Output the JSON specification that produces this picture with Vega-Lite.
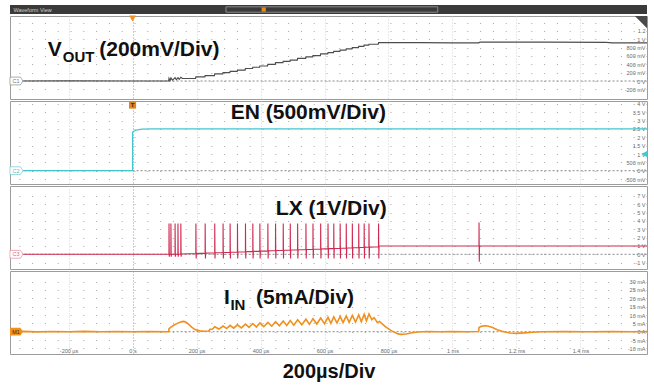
{
"$schema":"https://vega.github.io/schema/vega-lite/v6.json",
"background":"white",
"padding":{"left":6,"right":8,"top":5,"bottom":5},
"spacing":2,
"bounds":"flush",
"config":{
 "view":{"stroke":"#9c9c9c"},
 "font":"Liberation Sans",
 "axis":{"domain":false,"ticks":false,"tickSize":0,"labelFont":"Liberation Sans","labelFontSize":5.5,"labelColor":"#6a6a6a","labelOverlap":false,"titleFont":"Liberation Sans"},
 "text":{"font":"Liberation Sans"}
},
"datasets":{
 "vout":[{"t":-383,"v":0},{"t":-200,"v":0.004},{"t":0,"v":0},{"t":113,"v":0},{"t":114,"v":0.06},{"t":117,"v":0.01},{"t":120,"v":0.07},{"t":125,"v":0.02},{"t":133,"v":0.08},{"t":137,"v":0.03},{"t":142,"v":0.08},{"t":146,"v":0.04},{"t":151,"v":0.09},{"t":156,"v":0.06},
 {"t":197,"v":0.06},{"t":198,"v":0.10},{"t":226,"v":0.10},{"t":227,"v":0.13},{"t":256,"v":0.13},{"t":257,"v":0.17},{"t":282,"v":0.17},{"t":283,"v":0.20},{"t":304,"v":0.20},{"t":305,"v":0.23},{"t":327,"v":0.23},{"t":328,"v":0.26},{"t":352,"v":0.26},{"t":353,"v":0.30},{"t":375,"v":0.30},{"t":376,"v":0.33},{"t":397,"v":0.33},{"t":398,"v":0.36},{"t":422,"v":0.36},{"t":423,"v":0.40},{"t":446,"v":0.40},{"t":447,"v":0.44},{"t":470,"v":0.44},{"t":471,"v":0.47},{"t":492,"v":0.47},{"t":493,"v":0.50},{"t":515,"v":0.50},{"t":516,"v":0.54},{"t":541,"v":0.54},{"t":542,"v":0.58},{"t":563,"v":0.58},{"t":564,"v":0.61},{"t":587,"v":0.61},{"t":588,"v":0.65},{"t":610,"v":0.65},{"t":611,"v":0.68},{"t":628,"v":0.68},{"t":629,"v":0.71},{"t":648,"v":0.71},{"t":649,"v":0.74},{"t":667,"v":0.74},{"t":668,"v":0.77},{"t":686,"v":0.77},{"t":687,"v":0.80},{"t":706,"v":0.80},{"t":707,"v":0.83},{"t":723,"v":0.83},{"t":724,"v":0.86},{"t":738,"v":0.86},{"t":739,"v":0.88},{"t":768,"v":0.88},{"t":769,"v":0.92},
 {"t":900,"v":0.92},{"t":1000,"v":0.915},{"t":1082,"v":0.915},{"t":1086,"v":0.93},{"t":1300,"v":0.93},{"t":1480,"v":0.925},{"t":1500,"v":0.915},{"t":1608,"v":0.915}],
 "en":[{"t":-383,"v":0},{"t":0,"v":0},{"t":0.3,"v":2.32},{"t":5,"v":2.38},{"t":15,"v":2.45},{"t":30,"v":2.49},{"t":60,"v":2.5},{"t":1608,"v":2.5}],
 "lx":[{"t":-383,"v":0},{"t":113.8,"v":0},
 {"t":114,"v":3.7},{"t":114.8,"v":-0.3},{"t":115.6,"v":0},
 {"t":119.8,"v":0},{"t":120,"v":3.7},{"t":120.8,"v":-0.3},{"t":121.6,"v":0},
 {"t":132.8,"v":0},{"t":133,"v":3.7},{"t":133.8,"v":-0.3},{"t":134.6,"v":0},
 {"t":141.8,"v":0},{"t":142,"v":3.7},{"t":142.8,"v":-0.3},{"t":143.6,"v":0},
 {"t":150.8,"v":0},{"t":151,"v":3.7},{"t":151.8,"v":-0.3},{"t":152.6,"v":0.03},
 {"t":197.8,"v":0.10},{"t":198,"v":3.7},{"t":198.8,"v":-0.5},{"t":199.6,"v":0.10},
 {"t":226.8,"v":0.14},{"t":227,"v":3.7},{"t":227.8,"v":-0.5},{"t":228.6,"v":0.14},
 {"t":256.8,"v":0.18},{"t":257,"v":3.7},{"t":257.8,"v":-0.5},{"t":258.6,"v":0.18},
 {"t":282.8,"v":0.22},{"t":283,"v":3.7},{"t":283.8,"v":-0.5},{"t":284.6,"v":0.22},
 {"t":304.8,"v":0.25},{"t":305,"v":3.7},{"t":305.8,"v":-0.5},{"t":306.6,"v":0.25},
 {"t":327.8,"v":0.28},{"t":328,"v":3.7},{"t":328.8,"v":-0.5},{"t":329.6,"v":0.28},
 {"t":352.8,"v":0.31},{"t":353,"v":3.7},{"t":353.8,"v":-0.5},{"t":354.6,"v":0.31},
 {"t":375.8,"v":0.35},{"t":376,"v":3.7},{"t":376.8,"v":-0.5},{"t":377.6,"v":0.35},
 {"t":397.8,"v":0.38},{"t":398,"v":3.7},{"t":398.8,"v":-0.5},{"t":399.6,"v":0.38},
 {"t":422.8,"v":0.41},{"t":423,"v":3.7},{"t":423.8,"v":-0.5},{"t":424.6,"v":0.41},
 {"t":446.8,"v":0.45},{"t":447,"v":3.7},{"t":447.8,"v":-0.5},{"t":448.6,"v":0.45},
 {"t":470.8,"v":0.48},{"t":471,"v":3.7},{"t":471.8,"v":-0.5},{"t":472.6,"v":0.48},
 {"t":492.8,"v":0.51},{"t":493,"v":3.7},{"t":493.8,"v":-0.5},{"t":494.6,"v":0.51},
 {"t":515.8,"v":0.54},{"t":516,"v":3.7},{"t":516.8,"v":-0.5},{"t":517.6,"v":0.54},
 {"t":541.8,"v":0.58},{"t":542,"v":3.7},{"t":542.8,"v":-0.5},{"t":543.6,"v":0.58},
 {"t":563.8,"v":0.61},{"t":564,"v":3.7},{"t":564.8,"v":-0.5},{"t":565.6,"v":0.61},
 {"t":587.8,"v":0.64},{"t":588,"v":3.7},{"t":588.8,"v":-0.5},{"t":589.6,"v":0.64},
 {"t":610.8,"v":0.68},{"t":611,"v":3.7},{"t":611.8,"v":-0.5},{"t":612.6,"v":0.68},
 {"t":628.8,"v":0.70},{"t":629,"v":3.7},{"t":629.8,"v":-0.5},{"t":630.6,"v":0.70},
 {"t":648.8,"v":0.73},{"t":649,"v":3.7},{"t":649.8,"v":-0.5},{"t":650.6,"v":0.73},
 {"t":667.8,"v":0.76},{"t":668,"v":3.7},{"t":668.8,"v":-0.5},{"t":669.6,"v":0.76},
 {"t":686.8,"v":0.78},{"t":687,"v":3.7},{"t":687.8,"v":-0.5},{"t":688.6,"v":0.78},
 {"t":706.8,"v":0.81},{"t":707,"v":3.7},{"t":707.8,"v":-0.5},{"t":708.6,"v":0.81},
 {"t":723.8,"v":0.84},{"t":724,"v":3.7},{"t":724.8,"v":-0.5},{"t":725.6,"v":0.84},
 {"t":738.8,"v":0.86},{"t":739,"v":3.7},{"t":739.8,"v":-0.5},{"t":740.6,"v":0.86},
 {"t":768.8,"v":0.90},{"t":769,"v":3.7},{"t":769.8,"v":-0.5},{"t":770.6,"v":1.0},
 {"t":1082.8,"v":1.0},{"t":1083,"v":3.8},{"t":1083.8,"v":-0.9},{"t":1084.6,"v":1.0},{"t":1608,"v":1.0}],
 "iin":[{"t":-383,"v":0},{"t":-340,"v":0.2},{"t":-300,"v":-0.1},{"t":-250,"v":0.15},{"t":-200,"v":-0.05},{"t":-150,"v":0.2},{"t":-100,"v":0},{"t":-50,"v":0.15},{"t":0,"v":-0.05},{"t":50,"v":0.15},{"t":113,"v":0},
 {"t":114,"v":1.8},{"t":120,"v":2.8},{"t":130,"v":4.0},{"t":140,"v":5.0},{"t":150,"v":5.8},{"t":158,"v":6.2},{"t":165,"v":5.9},{"t":175,"v":4.5},{"t":185,"v":2.8},{"t":195,"v":1.3},{"t":210,"v":0.5},{"t":225,"v":0.3},{"t":238,"v":0.4},{"t":242,"v":1.4},{"t":250,"v":1.6},
 {"t":257,"v":3.0},{"t":270,"v":1.6},{"t":283,"v":3.4},{"t":294,"v":1.9},{"t":305,"v":3.8},{"t":316,"v":2.1},{"t":328,"v":4.1},{"t":340,"v":2.3},{"t":353,"v":4.5},{"t":364,"v":2.6},{"t":376,"v":4.9},{"t":387,"v":2.8},{"t":398,"v":5.2},{"t":410,"v":3.0},{"t":423,"v":5.6},{"t":435,"v":3.3},{"t":447,"v":6.0},{"t":459,"v":3.5},{"t":471,"v":6.4},{"t":482,"v":3.7},{"t":493,"v":6.7},{"t":504,"v":3.9},{"t":516,"v":7.1},{"t":529,"v":4.2},{"t":542,"v":7.5},{"t":553,"v":4.4},{"t":564,"v":7.8},{"t":576,"v":4.6},{"t":588,"v":8.2},{"t":600,"v":4.8},{"t":611,"v":8.6},{"t":620,"v":5.0},{"t":629,"v":8.9},{"t":639,"v":5.2},{"t":649,"v":9.2},{"t":658,"v":5.4},{"t":668,"v":9.5},{"t":677,"v":5.6},{"t":687,"v":9.8},{"t":697,"v":5.8},{"t":707,"v":10.1},{"t":715,"v":6.0},{"t":724,"v":10.4},{"t":731,"v":6.5},{"t":739,"v":10.6},{"t":748,"v":7.2},{"t":755,"v":8.4},{"t":765,"v":5.5},{"t":772,"v":6.2},{"t":790,"v":3.0},{"t":810,"v":0.5},{"t":830,"v":-1.3},{"t":840,"v":-1.6},{"t":855,"v":-1.4},{"t":870,"v":-0.8},{"t":890,"v":-0.2},{"t":920,"v":0.1},{"t":960,"v":0},{"t":1000,"v":0.15},{"t":1040,"v":0},{"t":1082,"v":0.1},
 {"t":1083,"v":2.5},{"t":1090,"v":3.2},{"t":1100,"v":3.6},{"t":1110,"v":3.4},{"t":1125,"v":2.5},{"t":1140,"v":1.2},{"t":1160,"v":0},{"t":1180,"v":-0.8},{"t":1200,"v":-1.0},{"t":1225,"v":-0.7},{"t":1250,"v":-0.3},{"t":1280,"v":0},{"t":1350,"v":0.15},{"t":1420,"v":-0.05},{"t":1500,"v":0.15},{"t":1560,"v":0},{"t":1608,"v":0.1}]
},
"vconcat":[
 {
  "width":637,"height":9,
  "view":{"fill":"#3a3a3a","stroke":null},
  "encoding":{
   "x":{"field":"t","type":"quantitative","scale":{"domain":[-383,1608],"nice":false,"zero":false},"axis":null},
   "y":{"field":"v","type":"quantitative","scale":{"domain":[0,1],"nice":false,"zero":false},"axis":null}
  },
  "layer":[
   {"data":{"values":[{"t":-372,"v":0.5,"lbl":"Waveform View"}]},"mark":{"type":"text","align":"left","baseline":"middle","fontSize":5.5,"color":"#cfcfcf"},"encoding":{"text":{"field":"lbl"}}},
   {"data":{"values":[{"t":292,"t2":954,"v":0.2,"v2":0.8}]},"mark":{"type":"rect","fillOpacity":0,"stroke":"#a0a0a0","strokeWidth":0.8},"encoding":{"x2":{"field":"t2"},"y2":{"field":"v2"}}},
   {"data":{"values":[{"t":410,"v":0.5}]},"mark":{"type":"point","shape":"square","filled":true,"color":"#e8891c","size":18,"opacity":1},"encoding":{}}
  ]
 },
 {
  "width":637,"height":83,
  "encoding":{
   "x":{"field":"t","type":"quantitative","scale":{"domain":[-383,1608],"nice":false,"zero":false},"axis":{"labels":false,"grid":true,"values":[-200,0,200,400,600,800,1000,1200,1400],"title":null,"gridDash":[1,2],"gridColor":{"condition":{"test":"datum.value===0","value":"#9a9a9a"},"value":"#d2d2d2"}}},
   "y":{"field":"v","type":"quantitative","scale":{"domain":[-0.431,1.557],"nice":false,"zero":false},"axis":{"orient":"right","values":[-0.2,0,0.2,0.4,0.6,0.8,1,1.2,1.4],"labelExpr":"datum.value==0?'0 V':datum.value==1?'1 V':datum.value==1.2?'1.2':datum.value>1.3?'':round(datum.value*1000)+' mV'","labelAlign":"right","labelPadding":-2,"labelBaseline":"middle","grid":true,"gridDash":[1,11.8],"gridColor":"#a8a8a8","title":null}}
  },
  "layer":[
   {"data":{"values":[{"t":-350,"t2":1608,"v":0}]},"mark":{"type":"rule","strokeDash":[2,2],"color":"#8a8a8a","strokeWidth":1},"encoding":{"x2":{"field":"t2"}}},
   {"data":{"name":"vout"},"mark":{"type":"line","color":"#4d4d4d","strokeWidth":1.2},"encoding":{}},
   {"data":{"values":[{"t":-265,"v":0.587,"lbl":"V"},{"t":-104,"v":0.587,"lbl":"(200mV/Div)"}]},"mark":{"type":"text","align":"left","baseline":"alphabetic","fontSize":21,"fontWeight":"bold","color":"#111111"},"encoding":{"text":{"field":"lbl"}}},
   {"data":{"values":[{"t":-218,"v":0.455,"lbl":"OUT"}]},"mark":{"type":"text","align":"left","baseline":"alphabetic","fontSize":15,"fontWeight":"bold","color":"#111111"},"encoding":{"text":{"field":"lbl"}}},
   {"data":{"values":[{"t":0,"v":1.497}]},"mark":{"type":"point","shape":"triangle-down","filled":true,"color":"#f0901e","size":45,"opacity":1},"encoding":{}},
   {"data":{"values":[{"t":1589,"v":1.41}]},"mark":{"type":"point","shape":"M-1,-1L1,-1L1,1Z","filled":true,"color":"#4a4a4a","size":150,"opacity":1},"encoding":{}},
   {"data":{"values":[{"t":-362.7,"v":0}]},"mark":{"type":"point","shape":"M-1,-0.6L0.6,-0.6L1,0L0.6,0.6L-1,0.6Z","filled":true,"fill":"white","stroke":"#8a8a8a","strokeWidth":0.7,"size":169,"opacity":1},"encoding":{}},
   {"data":{"values":[{"t":-364,"v":0,"lbl":"C1"}]},"mark":{"type":"text","fontSize":5.5,"color":"#777777","baseline":"middle"},"encoding":{"text":{"field":"lbl"}}}
  ]
 },
 {
  "width":637,"height":83,
  "encoding":{
   "x":{"field":"t","type":"quantitative","scale":{"domain":[-383,1608],"nice":false,"zero":false},"axis":{"labels":false,"grid":true,"values":[-200,0,200,400,600,800,1000,1200,1400],"title":null,"gridDash":[1,2],"gridColor":{"condition":{"test":"datum.value===0","value":"#9a9a9a"},"value":"#d2d2d2"}}},
   "y":{"field":"v","type":"quantitative","scale":{"domain":[-0.796,4.174],"nice":false,"zero":false},"axis":{"orient":"right","values":[-0.5,0,0.5,1,1.5,2,2.5,3,3.5,4],"labelExpr":"datum.value==0?'0 V':abs(datum.value)<1?round(datum.value*1000)+' mV':datum.value+' V'","labelAlign":"right","labelPadding":-2,"labelBaseline":"middle","grid":true,"gridDash":[1,11.8],"gridColor":"#a8a8a8","title":null}}
  },
  "layer":[
   {"data":{"values":[{"t":-350,"t2":1608,"v":0}]},"mark":{"type":"rule","strokeDash":[2,2],"color":"#8a8a8a","strokeWidth":1},"encoding":{"x2":{"field":"t2"}}},
   {"data":{"name":"en"},"mark":{"type":"line","color":"#45c4ce","strokeWidth":1.2},"encoding":{}},
   {"data":{"values":[{"t":307,"v":3.096,"lbl":"EN (500mV/Div)"}]},"mark":{"type":"text","align":"left","baseline":"alphabetic","fontSize":21,"fontWeight":"bold","color":"#111111"},"encoding":{"text":{"field":"lbl"}}},
   {"data":{"values":[{"t":0,"v":3.93}]},"mark":{"type":"point","shape":"square","filled":true,"color":"#e0861c","size":50,"opacity":1},"encoding":{}},
   {"data":{"values":[{"t":0,"v":3.93,"lbl":"T"}]},"mark":{"type":"text","fontSize":6,"fontWeight":"bold","color":"#3a2a10","baseline":"middle"},"encoding":{"text":{"field":"lbl"}}},
   {"data":{"values":[{"t":1600,"v":1}]},"mark":{"type":"point","shape":"triangle-left","filled":true,"color":"#3ec8d2","size":45,"opacity":1},"encoding":{}},
   {"data":{"values":[{"t":-362.7,"v":0}]},"mark":{"type":"point","shape":"M-1,-0.6L0.6,-0.6L1,0L0.6,0.6L-1,0.6Z","filled":true,"fill":"white","stroke":"#6cc9d1","strokeWidth":0.7,"size":169,"opacity":1},"encoding":{}},
   {"data":{"values":[{"t":-364,"v":0,"lbl":"C2"}]},"mark":{"type":"text","fontSize":5.5,"color":"#5fb8c0","baseline":"middle"},"encoding":{"text":{"field":"lbl"}}}
  ]
 },
 {
  "width":637,"height":83,
  "encoding":{
   "x":{"field":"t","type":"quantitative","scale":{"domain":[-383,1608],"nice":false,"zero":false},"axis":{"labels":false,"grid":true,"values":[-200,0,200,400,600,800,1000,1200,1400],"title":null,"gridDash":[1,2],"gridColor":{"condition":{"test":"datum.value===0","value":"#9a9a9a"},"value":"#d2d2d2"}}},
   "y":{"field":"v","type":"quantitative","scale":{"domain":[-1.76,8.18],"nice":false,"zero":false},"axis":{"orient":"right","values":[-1,0,1,2,3,4,5,6,7],"labelExpr":"datum.value+' V'","labelAlign":"right","labelPadding":-2,"labelBaseline":"middle","grid":true,"gridDash":[1,11.8],"gridColor":"#a8a8a8","title":null}}
  },
  "layer":[
   {"data":{"values":[{"t":-350,"t2":1608,"v":0}]},"mark":{"type":"rule","strokeDash":[2,2],"color":"#8a8a8a","strokeWidth":1},"encoding":{"x2":{"field":"t2"}}},
   {"data":{"name":"lx"},"mark":{"type":"line","color":"#cf2a52","strokeWidth":1.1},"encoding":{}},
   {"data":{"values":[{"t":448,"v":4.71,"lbl":"LX (1V/Div)"}]},"mark":{"type":"text","align":"left","baseline":"alphabetic","fontSize":21,"fontWeight":"bold","color":"#111111"},"encoding":{"text":{"field":"lbl"}}},
   {"data":{"values":[{"t":-362.7,"v":0}]},"mark":{"type":"point","shape":"M-1,-0.6L0.6,-0.6L1,0L0.6,0.6L-1,0.6Z","filled":true,"fill":"white","stroke":"#e88aa0","strokeWidth":0.7,"size":169,"opacity":1},"encoding":{}},
   {"data":{"values":[{"t":-364,"v":0,"lbl":"C3"}]},"mark":{"type":"text","fontSize":5.5,"color":"#d86a84","baseline":"middle"},"encoding":{"text":{"field":"lbl"}}}
  ]
 },
 {
  "width":637,"height":83,
  "encoding":{
   "x":{"field":"t","type":"quantitative","scale":{"domain":[-383,1608],"nice":false,"zero":false},"axis":{"labels":true,"grid":true,"values":[-200,0,200,400,600,800,1000,1200,1400],"labelExpr":"datum.value==0?'0 s':abs(datum.value)<1000?datum.value+' µs':(datum.value/1000)+' ms'","labelBaseline":"bottom","labelPadding":-1,"title":"200µs/Div","titleFontSize":20,"titleFontWeight":"bold","titleColor":"#111111","titlePadding":7,"gridDash":[1,2],"gridColor":{"condition":{"test":"datum.value===0","value":"#9a9a9a"},"value":"#d2d2d2"}}},
   "y":{"field":"v","type":"quantitative","scale":{"domain":[-13.35,36.35],"nice":false,"zero":false},"axis":{"orient":"right","values":[-10,-5,0,5,10,15,20,25,30],"labelExpr":"datum.value==0?'0 A':datum.value+' mA'","labelAlign":"right","labelPadding":-2,"labelBaseline":"middle","grid":true,"gridDash":[1,11.8],"gridColor":"#a8a8a8","title":null}}
  },
  "layer":[
   {"data":{"values":[{"t":-350,"t2":1608,"v":0}]},"mark":{"type":"rule","strokeDash":[2,2],"color":"#8a8a8a","strokeWidth":1},"encoding":{"x2":{"field":"t2"}}},
   {"data":{"name":"iin"},"mark":{"type":"line","color":"#f0901e","strokeWidth":1.6},"encoding":{}},
   {"data":{"values":[{"t":286,"v":16.6,"lbl":"I"},{"t":386,"v":16.6,"lbl":"(5mA/Div)"}]},"mark":{"type":"text","align":"left","baseline":"alphabetic","fontSize":21,"fontWeight":"bold","color":"#111111"},"encoding":{"text":{"field":"lbl"}}},
   {"data":{"values":[{"t":306,"v":13.0,"lbl":"IN"}]},"mark":{"type":"text","align":"left","baseline":"alphabetic","fontSize":15,"fontWeight":"bold","color":"#111111"},"encoding":{"text":{"field":"lbl"}}},
   {"data":{"values":[{"t":-362.7,"v":0}]},"mark":{"type":"point","shape":"M-1,-0.6L0.6,-0.6L1,0L0.6,0.6L-1,0.6Z","filled":true,"color":"#f0901e","size":169,"opacity":1},"encoding":{}},
   {"data":{"values":[{"t":-364,"v":0,"lbl":"M1"}]},"mark":{"type":"text","fontSize":5.5,"color":"#4a2a00","baseline":"middle"},"encoding":{"text":{"field":"lbl"}}}
  ]
 }
]
}
